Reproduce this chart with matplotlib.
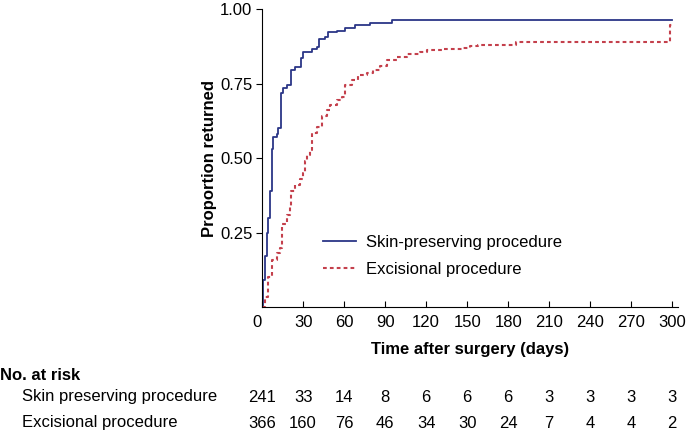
import matplotlib.pyplot as plt
import matplotlib.transforms as mtransforms

plt.rcParams['font.family'] = ['Liberation Sans', 'DejaVu Sans']

# Kaplan-Meier style step curves (day, proportion returned)
skin_days = [0, 1, 2.2, 3.4, 4.6, 5.9, 7, 8.3, 10.7, 12, 13.7, 15.4, 18, 21.2, 24,
             28.5, 30, 36.3, 40, 42, 46, 48.5, 54.6, 60.7, 68, 79, 95, 300]
skin_prop = [0, 0.09, 0.17, 0.25, 0.30, 0.39, 0.53, 0.57, 0.58, 0.60, 0.72, 0.735,
             0.745, 0.795, 0.805, 0.835, 0.856, 0.865, 0.873, 0.90, 0.906, 0.922,
             0.926, 0.937, 0.946, 0.952, 0.963, 0.963]

exc_days = [0, 2.2, 4.6, 7, 10.7, 13, 14.4, 18, 20.5, 21.2, 24, 27.8, 30, 31.5,
            32.7, 35, 36.4, 40, 43.7, 47.3, 49.7, 54.6, 58.3, 60.7, 65.6, 70.3,
            76.6, 81.4, 86.3, 91.2, 98.5, 106, 115.6, 120.5, 132.6, 146, 152, 158,
            186, 298, 300]
exc_prop = [0, 0.034, 0.10, 0.158, 0.18, 0.198, 0.28, 0.31, 0.335, 0.39, 0.41, 0.43,
            0.45, 0.49, 0.51, 0.527, 0.584, 0.605, 0.64, 0.66, 0.678, 0.695, 0.705,
            0.745, 0.762, 0.778, 0.785, 0.795, 0.81, 0.829, 0.84, 0.85, 0.856, 0.862,
            0.865, 0.868, 0.877, 0.881, 0.888, 0.946, 0.946]

risk_times = [0, 30, 60, 90, 120, 150, 180, 210, 240, 270, 300]
risk_skin = [241, 33, 14, 8, 6, 6, 6, 3, 3, 3, 3]
risk_exc = [366, 160, 76, 46, 34, 30, 24, 7, 4, 4, 2]

blue = '#2b3687'
red = '#c4404c'
fs = 12

fig = plt.figure(figsize=(6.86, 4.32), dpi=100)
ax = fig.add_axes([0.382, 0.289, 0.606, 0.690])

ax.step(skin_days, skin_prop, where='post', color=blue, lw=1.3,
        label='Skin-preserving procedure')
ax.step(exc_days, exc_prop, where='post', color=red, lw=1.5,
        linestyle=(0, (1.8, 1.5)), label='Excisional procedure')

ax.set_xlim(0, 304)
ax.set_ylim(0, 1.0)
ax.set_xticks(risk_times)
ax.set_yticks([0.25, 0.5, 0.75, 1.0])
ax.set_yticklabels(['0.25', '0.50', '0.75', '1.00'])
ax.tick_params(axis='x', direction='in', length=4, labelsize=fs, pad=6)
ax.tick_params(axis='y', direction='out', length=4, labelsize=fs, pad=3)
ax.get_xticklabels()[0].set_ha('right')
for s in ['top', 'right']:
    ax.spines[s].set_visible(False)

ax.set_xlabel('Time after surgery (days)', fontsize=fs, fontweight='bold', labelpad=8)
ax.set_ylabel('Proportion returned', fontsize=fs, fontweight='bold', labelpad=2)

ax.legend(loc='lower left', bbox_to_anchor=(0.11, 0.05), frameon=False,
          fontsize=fs, handlelength=2.0, handletextpad=0.6, labelspacing=0.75)

# number at risk table
trans = mtransforms.blended_transform_factory(ax.transData, fig.transFigure)
fig.text(0.0, 1 - 375 / 432, 'No. at risk', fontsize=fs, fontweight='bold', va='center')
fig.text(22 / 686, 1 - 397 / 432, 'Skin preserving procedure', fontsize=fs, va='center')
fig.text(22 / 686, 1 - 423 / 432, 'Excisional procedure', fontsize=fs, va='center')
for t, a, b in zip(risk_times, risk_skin, risk_exc):
    ax.text(t, 1 - 397 / 432, str(a), transform=trans, ha='center', va='center',
            fontsize=fs, clip_on=False)
    ax.text(t, 1 - 423 / 432, str(b), transform=trans, ha='center', va='center',
            fontsize=fs, clip_on=False)

fig.savefig('out.png', dpi=100)
